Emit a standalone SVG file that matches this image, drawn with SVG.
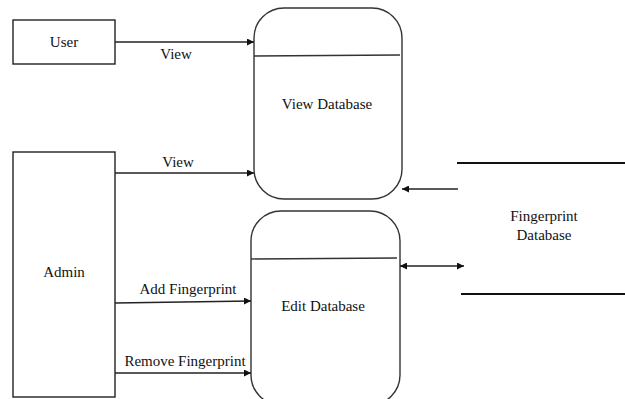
<svg xmlns="http://www.w3.org/2000/svg" width="625" height="399" viewBox="0 0 625 399">
  <style>
    .box { fill: #fff; stroke: #222; stroke-width: 1.4; }
    .proc { fill: #fff; stroke: #333; stroke-width: 1.4; }
    .div { stroke: #333; stroke-width: 1.3; }
    .flow { fill: none; stroke: #222; stroke-width: 1.4; }
    .store { stroke: #111; stroke-width: 2.2; }
    .lbl { font-family: "Liberation Serif", "DejaVu Serif", "Times New Roman", serif; font-size: 15px; fill: #111; }
    .c { text-anchor: middle; }
  </style>
  <defs>
    <marker id="arr" viewBox="0 0 10 10" refX="10" refY="5" markerWidth="8" markerHeight="7" markerUnits="userSpaceOnUse" orient="auto-start-reverse">
      <path d="M0,0 L10,5 L0,10 z" fill="#111"/>
    </marker>
  </defs>
  <rect width="625" height="399" fill="#fff"/>

  <g id="user">
    <rect class="box" x="13" y="20" width="102" height="44"/>
    <text class="lbl c" x="64" y="47" font-family="Liberation Serif, serif">User</text>
  </g>

  <g id="admin">
    <rect class="box" x="13" y="152" width="102" height="245"/>
    <text class="lbl c" x="64" y="277" font-family="Liberation Serif, serif">Admin</text>
  </g>

  <g id="view-database">
    <rect class="proc" x="254" y="8" width="148" height="191" rx="30" ry="30"/>
    <line class="div" x1="254" y1="56" x2="400" y2="55"/>
    <text class="lbl c" x="327" y="109" font-family="Liberation Serif, serif">View Database</text>
  </g>

  <g id="edit-database">
    <rect class="proc" x="251" y="211" width="149" height="194" rx="30" ry="30"/>
    <line class="div" x1="251" y1="259" x2="397" y2="258"/>
    <text class="lbl c" x="323" y="311" font-family="Liberation Serif, serif">Edit Database</text>
  </g>

  <g id="fingerprint-database">
    <line class="store" x1="457" y1="163" x2="625" y2="163"/>
    <line class="store" x1="461" y1="294" x2="625" y2="294"/>
    <text class="lbl c" x="544" y="221" font-family="Liberation Serif, serif">Fingerprint</text>
    <text class="lbl c" x="544" y="240" font-family="Liberation Serif, serif">Database</text>
  </g>

  <g id="connectors">
    <line class="flow" x1="115" y1="42" x2="254" y2="42" marker-end="url(#arr)"/>
    <text class="lbl c" x="176" y="59" font-family="Liberation Serif, serif">View</text>

    <line class="flow" x1="115" y1="173" x2="254" y2="173" marker-end="url(#arr)"/>
    <text class="lbl c" x="178" y="167" font-family="Liberation Serif, serif">View</text>

    <line class="flow" x1="115" y1="303" x2="251" y2="301" marker-end="url(#arr)"/>
    <text class="lbl c" x="188" y="294" font-family="Liberation Serif, serif">Add Fingerprint</text>

    <line class="flow" x1="115" y1="373" x2="251" y2="373" marker-end="url(#arr)"/>
    <text class="lbl c" x="185" y="366" font-family="Liberation Serif, serif">Remove Fingerprint</text>

    <line class="flow" x1="458" y1="189" x2="402" y2="189" marker-end="url(#arr)"/>

    <line class="flow" x1="400" y1="266" x2="464" y2="266" marker-start="url(#arr)" marker-end="url(#arr)"/>
  </g>
</svg>
